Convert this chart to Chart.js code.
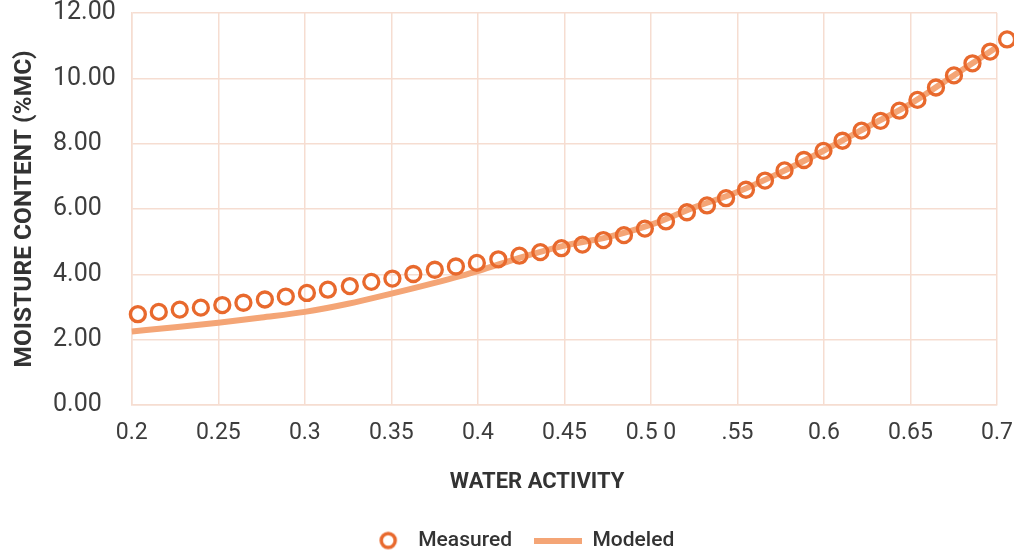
<!DOCTYPE html>
<html>
<head>
<meta charset="utf-8">
<script src="https://cdn.jsdelivr.net/npm/chart.js@4.4.0/dist/chart.umd.min.js"></script>
<style>
  body { margin: 0; background: #fff; }
  #wrap { width: 1014px; height: 550px; }
</style>
</head>
<body>
<div id="wrap"><canvas id="chart"></canvas></div>
<script>
// measured points (water activity, %MC)
const measuredX = [0.2035, 0.2156, 0.2277, 0.2399, 0.2523, 0.2645, 0.2769, 0.2890, 0.3012, 0.3133,
  0.3260, 0.3384, 0.3506, 0.3627, 0.3751, 0.3873, 0.3994, 0.4118, 0.4240, 0.4361,
  0.4483, 0.4604, 0.4725, 0.4844, 0.4965, 0.5087, 0.5208, 0.5324, 0.5434, 0.5549,
  0.5659, 0.5772, 0.5884, 0.5997, 0.6107, 0.6217, 0.6327, 0.6436, 0.6540, 0.6647,
  0.6751, 0.6858, 0.6960, 0.7058]
const measuredY = [2.78, 2.85, 2.92, 2.98, 3.06, 3.13, 3.23, 3.32, 3.43, 3.53,
  3.64, 3.77, 3.87, 4.01, 4.14, 4.24, 4.35, 4.46, 4.57, 4.68,
  4.80, 4.91, 5.05, 5.20, 5.40, 5.62, 5.90, 6.11, 6.33, 6.59,
  6.87, 7.18, 7.50, 7.78, 8.09, 8.40, 8.70, 9.01, 9.34, 9.72,
  10.09, 10.46, 10.82, 11.19]

// modeled curve
const modeledX = [0.200, 0.225, 0.250, 0.275, 0.300, 0.325, 0.350, 0.375, 0.400, 0.425,
  0.450, 0.475, 0.500, 0.525, 0.550, 0.575, 0.600, 0.625, 0.650, 0.675, 0.700, 0.708]
const modeledY = [2.25, 2.38, 2.52, 2.68, 2.85, 3.10, 3.41, 3.74, 4.10, 4.52,
  4.88, 5.14, 5.52, 6.05, 6.52, 7.12, 7.79, 8.51, 9.22, 10.09, 10.96, 11.25]

const xTickValues = [0.2, 0.25, 0.3, 0.35, 0.4, 0.45, 0.5, 0.55, 0.6, 0.65, 0.7]
const xTickLabels = ['0.2', '0.25', '0.3', '0.35', '0.4', '0.45', '0.5 0', '.55', '0.6', '0.65', '0.7']
const yTickValues = [0, 2, 4, 6, 8, 10, 12]

const ringColor = '#E8692D'
const lineColor = '#F4A576'
const gridColor = '#F6DDD1'

// little legend icons
function ringIcon(){
    let c = document.createElement('canvas')
    c.width = 31; c.height = 22
    let g = c.getContext('2d')
    g.strokeStyle = ringColor
    g.lineWidth = 3.5
    g.beginPath()
    g.arc(20, 11, 7, 0, Math.PI * 2)
    g.stroke()
    return c
}
function lineIcon(){
    let c = document.createElement('canvas')
    c.width = 48; c.height = 6
    let g = c.getContext('2d')
    g.fillStyle = lineColor
    g.fillRect(0, 0, 48, 6)
    return c
}
const icons = [ringIcon(), lineIcon()]

const measured = measuredX.map((x, i) => ({x: x, y: measuredY[i]}))
const modeled = modeledX.map((x, i) => ({x: x, y: modeledY[i]}))

let ctx = document.getElementById('chart').getContext('2d')
let chart = new Chart(ctx, {
    type: 'line',
    data: {
        datasets: [{
            label: 'Measured',
            data: measured,
            showLine: false,
            pointStyle: 'circle',
            pointRadius: 7.5,
            pointBorderWidth: 3.3,
            pointBorderColor: ringColor,
            pointBackgroundColor: 'rgba(0,0,0,0)',
            borderColor: ringColor,
            clip: false
        }, {
            label: 'Modeled',
            data: modeled,
            borderColor: lineColor,
            borderWidth: 6,
            pointRadius: 0,
            cubicInterpolationMode: 'monotone',
            fill: false,
            clip: false
        }]
    },
    options: {
        responsive: true,
        maintainAspectRatio: false,
        animation: false,
        layout: {
            autoPadding: false,
            padding: {left: 20, right: 0, top: 0, bottom: -11}
        },
        scales: {
            x: {
                type: 'linear',
                min: 0.2,
                max: 0.7,
                afterBuildTicks: function(scale){
                    scale.ticks = xTickValues.map(v => ({value: v}))
                },
                ticks: {
                    callback: (v, i) => xTickLabels[i],
                    font: {family: 'Roboto', size: 23},
                    color: '#3d3d3d',
                    padding: 1,
                    maxRotation: 0,
                    autoSkip: false
                },
                grid: {color: gridColor, lineWidth: 1.5, drawTicks: true, tickLength: 13, tickColor: 'rgba(0,0,0,0)'},
                border: {color: gridColor, width: 1.5},
                title: {
                    display: true,
                    text: 'WATER ACTIVITY\u00a0\u00a0\u00a0\u00a0\u00a0\u00a0\u00a0\u00a0\u00a0\u00a0',
                    font: {family: 'Roboto', size: 22, weight: 'bold'},
                    color: '#333',
                    padding: {top: 22, bottom: 12}
                }
            },
            y: {
                min: 0,
                max: 12,
                afterBuildTicks: function(scale){
                    scale.ticks = yTickValues.map(v => ({value: v}))
                },
                ticks: {
                    callback: v => v.toFixed(2),
                    font: {family: 'Roboto', size: 25, lineHeight: 0.4},
                    color: '#3d3d3d',
                    padding: 8,
                    crossAlign: 'far'
                },
                grid: {color: gridColor, lineWidth: 1.5, drawTicks: false},
                border: {color: gridColor, width: 1.5}
            }
        },
        plugins: {
            title: {
                display: true,
                position: 'left',
                fullSize: false,
                text: 'MOISTURE CONTENT (%MC)',
                font: {family: 'Roboto', size: 24.5, weight: 'bold'},
                color: '#333',
                padding: {top: -9.7, bottom: 13.3}
            },
            legend: {
                position: 'bottom',
                labels: {
                    usePointStyle: true,
                    pointStyleWidth: 48,
                    font: {family: 'Roboto', size: 21, weight: '500'},
                    color: '#333',
                    padding: 22,
                    generateLabels: function(c){
                        return c.data.datasets.map((ds, i) => ({
                            text: ds.label,
                            pointStyle: icons[i],
                            fillStyle: 'rgba(0,0,0,0)',
                            strokeStyle: 'rgba(0,0,0,0)',
                            lineWidth: 0,
                            fontColor: '#333',
                            datasetIndex: i,
                            hidden: false
                        }))
                    }
                }
            },
            tooltip: {enabled: false}
        }
    }
})
</script>
</body>
</html>
